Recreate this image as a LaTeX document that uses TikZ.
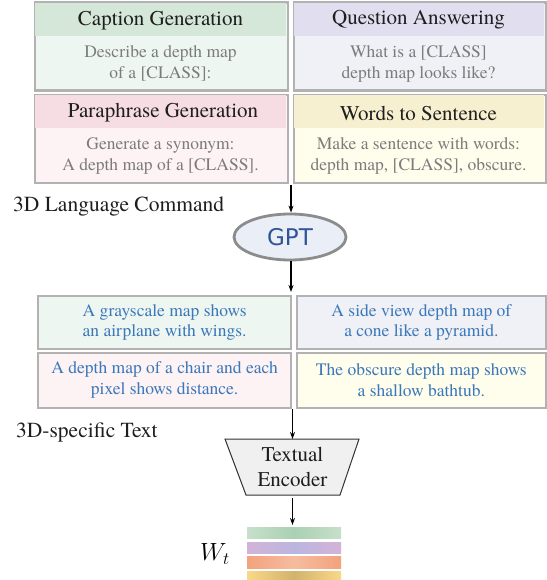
\documentclass[tikz,border=0pt]{standalone}
\usepackage{fontspec}
\setmainfont{TeX Gyre Termes}
\newfontfamily\serifmain{TeX Gyre Termes}
\newfontfamily\gptfont{DejaVu Sans}
\usetikzlibrary{arrows.meta,shapes.geometric}
\definecolor{boxgray}{HTML}{B2B2B2}
\definecolor{titletxt}{HTML}{1E1E1E}
\definecolor{bodytxt}{HTML}{7C7C7C}
\definecolor{bluetxt}{HTML}{3A78BA}
\definecolor{gptblue}{HTML}{2F5597}
\definecolor{greenhead}{HTML}{D4E7D8}
\definecolor{greenbody}{HTML}{EEF6F1}
\definecolor{purplehead}{HTML}{E1DFEF}
\definecolor{purplebody}{HTML}{F0F0F7}
\definecolor{pinkhead}{HTML}{F6DCE3}
\definecolor{pinkbody}{HTML}{FDF2F4}
\definecolor{yellowhead}{HTML}{F7F0D0}
\definecolor{yellowbody}{HTML}{FFFDEB}
\definecolor{gptfill}{HTML}{E9EEF7}
\definecolor{gptborder}{HTML}{8C8C8C}
\definecolor{encfill}{HTML}{F0F0F0}
\definecolor{bargreenE}{HTML}{C6E0CB}
\definecolor{bargreenM}{HTML}{ABD0B2}
\definecolor{barpurpE}{HTML}{D3B3D8}
\definecolor{barpurpM}{HTML}{BAB6E0}
\definecolor{barorE}{HTML}{F3A27D}
\definecolor{barorM}{HTML}{F6BC9F}
\definecolor{baryelE}{HTML}{FAD888}
\definecolor{baryelM}{HTML}{D2B36C}
\begin{document}
\begin{tikzpicture}[x=1pt,y=-1pt,
  taskbox/.style={draw=boxgray, line width=2.2pt, anchor=north west, inner sep=0pt,
    minimum width=253pt, minimum height=88pt},
  headband/.style={anchor=north west, inner sep=0pt, minimum width=250.8pt,
    minimum height=33pt},
  titletext/.style={inner sep=0pt, text=titletxt, font=\serifmain\fontsize{21}{24}\selectfont},
  bodytext/.style={text=bodytxt, align=center, inner sep=0pt, font=\serifmain\fontsize{17.5}{21}\selectfont},
  outbox/.style={draw=boxgray, line width=2.2pt, anchor=north west, inner sep=0pt,
    minimum height=53pt, text=bluetxt, align=center, font=\serifmain\fontsize{17.5}{20.5}\selectfont},
  flow/.style={-{Stealth[length=7pt,width=5pt]}, line width=1.1pt, black},
  sidelabel/.style={anchor=west, inner sep=0pt, text=titletxt, font=\serifmain\fontsize{21.5}{24}\selectfont}
]
\useasboundingbox (0,0) rectangle (546,580);

% ---- Top task boxes ----
\node[taskbox, fill=greenbody] (cg) at (34,1.5) {};
\node[headband, fill=greenhead] (cgh) at (35.1,2.6) {};
\node[titletext] (cgt) at (160.5,21) {Caption Generation};
\node[bodytext] (cgb) at (160.5,63.5) {Describe a depth map\\of a [CLASS]:};

\node[taskbox, fill=purplebody, minimum width=252pt] (qa) at (292.5,1.5) {};
\node[headband, fill=purplehead, minimum width=249.8pt] (qah) at (293.6,2.6) {};
\node[titletext] (qat) at (418.5,19.5) {Question Answering};
\node[bodytext] (qab) at (418.5,63.5) {What is a [CLASS]\\depth map looks like?};

\node[taskbox, fill=pinkbody] (pg) at (34,94) {};
\node[headband, fill=pinkhead] (pgh) at (35.1,95.1) {};
\node[titletext] (pgt) at (163,113) {Paraphrase Generation};
\node[bodytext] (pgb) at (160.5,156) {Generate a synonym:\\A depth map of a [CLASS].};

\node[taskbox, fill=yellowbody, minimum width=252pt] (ws) at (292.5,94) {};
\node[headband, fill=yellowhead, minimum width=249.8pt] (wsh) at (293.6,95.1) {};
\node[titletext] (wst) at (418.5,113) {Words to Sentence};
\node[bodytext] (wsb) at (418.5,156) {Make a sentence with words:\\depth map, [CLASS], obscure.};

% ---- GPT ----
\node[sidelabel] (cmd) at (13,207) {3D Language Command};
\coordinate (topout) at (291,185);
\node[ellipse, draw=gptborder, line width=2.8pt, fill=gptfill, minimum width=112pt,
  minimum height=46pt, inner sep=0pt, text=gptblue, font=\gptfont\fontsize{23}{26}\selectfont] (gpt) at (290,237) {GPT};
\draw[flow] (topout) -- (gpt.north -| topout);
\coordinate (gptout) at (291,292);
\draw[flow] (gpt.south -| gptout) -- (gptout);

% ---- Generated texts ----
\node[outbox, fill=greenbody, minimum width=253pt] (t1) at (37,295) {A grayscale map shows\\an airplane with wings.};
\node[outbox, fill=purplebody, minimum width=248.5pt] (t2) at (296,295) {A side view depth map of\\a cone like a pyramid.};
\node[outbox, fill=pinkbody, minimum width=253pt, minimum height=55pt] (t3) at (37,351.5) {A depth map of a chair and each\\pixel shows distance.};
\node[outbox, fill=yellowbody, minimum width=248.5pt, minimum height=55pt] (t4) at (296,351.5) {The obscure depth map shows\\a shallow bathtub.};

% ---- Encoder ----
\node[sidelabel] (spec) at (16,432) {3D-specific Text};
\coordinate (encTL) at (225,439);
\coordinate (encTR) at (359,439);
\coordinate (encBR) at (340,495);
\coordinate (encBL) at (246,495);
\draw[fill=encfill, draw=black!80, line width=1pt] (encTL) -- (encTR) -- (encBR) -- (encBL) -- cycle;
\node[align=center, inner sep=0pt, text=titletxt, font=\serifmain\fontsize{21}{25}\selectfont] (enc) at (292.5,467) {Textual\\Encoder};
\coordinate (encin) at (292.5,439);
\coordinate (encout) at (292.5,495);
\coordinate (textout) at (292.5,409);
\draw[flow] (textout) -- (encin);
\coordinate (barin) at (292.5,525);
\draw[flow] ([yshift=-3pt]encout) -- (barin);

% ---- Embedding bars ----
\shade[left color=bargreenE, right color=bargreenE, middle color=bargreenM] (247,527) rectangle (341,538.5);
\shade[left color=barpurpE, right color=barpurpE, middle color=barpurpM] (247,542) rectangle (341,553.5);
\shade[left color=barorE, right color=barorE, middle color=barorM] (247,556.5) rectangle (341,568);
\shade[left color=baryelE, right color=baryelE, middle color=baryelM] (247,571) rectangle (341,580);
\node[inner sep=0pt, font=\fontsize{24}{26}\selectfont] (wt) at (215,554) {$W_t$};
\end{tikzpicture}
\end{document}
